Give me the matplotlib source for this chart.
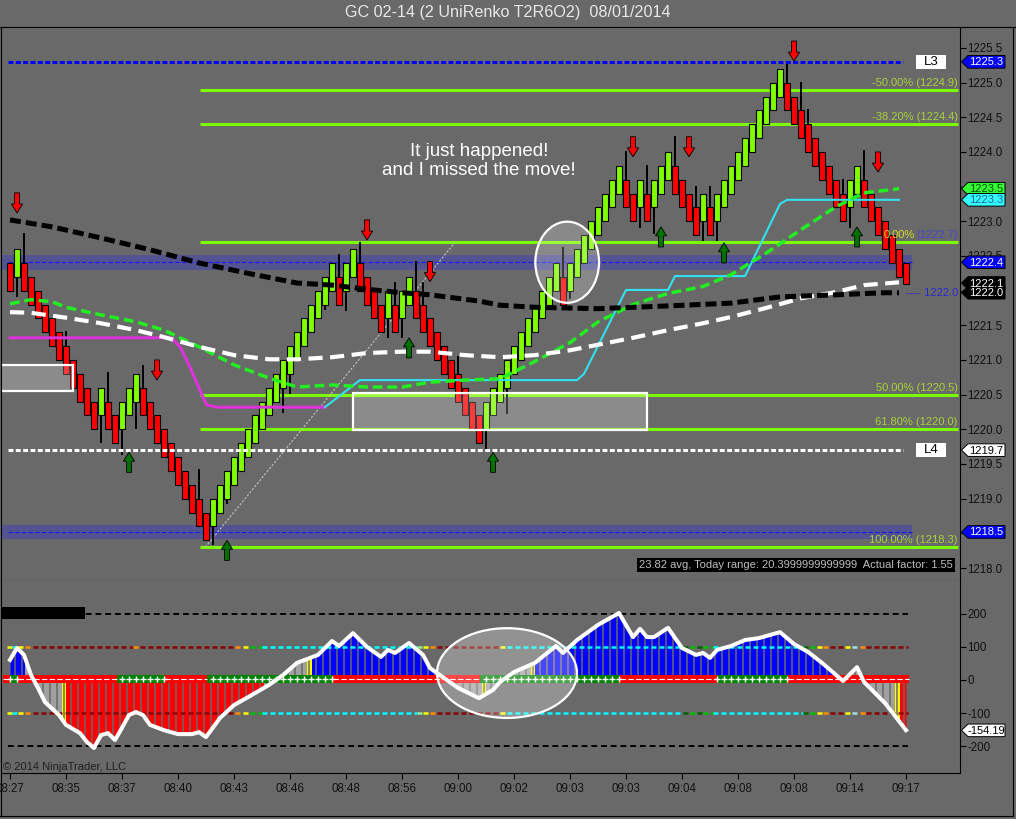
import numpy as np
import matplotlib
matplotlib.use('Agg')
import matplotlib.pyplot as plt
from matplotlib.patches import Rectangle, Ellipse, Polygon, FancyArrow
from matplotlib.lines import Line2D
from matplotlib.transforms import IdentityTransform

plt.rcParams['font.family'] = ['Liberation Sans', 'DejaVu Sans']

# ---------------- data ----------------
title = 'GC 02-14 (2 UniRenko T2R6O2)  08/01/2014'
time_labels = ['08:27', '08:35', '08:37', '08:40', '08:43', '08:46', '08:48', '08:56', '09:00',
               '09:02', '09:03', '09:03', '09:04', '09:08', '09:08', '09:14', '09:17']
time_tick_idx = [0, 8, 16, 24, 32, 40, 48, 56, 64, 72, 80, 88, 96, 104, 112, 120, 128]
price_ticks = [1218.0, 1218.5, 1219.0, 1219.5, 1220.0, 1220.5, 1221.0, 1221.5,
               1222.0, 1222.5, 1223.0, 1223.5, 1224.0, 1224.5, 1225.0, 1225.5]
hidden_ticks = [1218.5, 1222.0, 1223.5]   # covered by price tags in the reference
osc_ticks = [200, 100, 0, -100, -200]

closes = [1222.0, 1222.6, 1222.0, 1221.8, 1221.6, 1221.4, 1221.2, 1221.0, 1220.8, 1220.6,
          1220.4, 1220.2, 1220.0, 1220.6, 1220.0, 1219.8, 1220.4, 1220.6, 1220.8, 1220.2,
          1220.0, 1219.8, 1219.6, 1219.4, 1219.2, 1219.0, 1218.8, 1218.6, 1218.4, 1219.0,
          1219.2, 1219.4, 1219.6, 1219.8, 1220.0, 1220.2, 1220.4, 1220.6, 1220.8, 1221.0,
          1221.2, 1221.4, 1221.6, 1221.8, 1222.0, 1222.2, 1222.4, 1221.8, 1222.4, 1222.6,
          1222.0, 1221.8, 1221.6, 1221.4, 1222.0, 1221.4, 1222.0, 1222.2, 1221.6, 1221.4,
          1221.2, 1221.0, 1220.8, 1220.6, 1220.4, 1220.2, 1220.0, 1219.8, 1220.4, 1220.6,
          1220.8, 1221.0, 1221.2, 1221.4, 1221.6, 1221.8, 1222.0, 1222.2, 1222.4, 1221.8,
          1222.4, 1222.6, 1222.8, 1223.0, 1223.2, 1223.4, 1223.6, 1223.8, 1223.2, 1223.0,
          1223.6, 1223.0, 1223.6, 1223.8, 1224.0, 1223.4, 1223.2, 1223.0, 1222.8, 1223.4,
          1222.8, 1223.4, 1223.6, 1223.8, 1224.0, 1224.2, 1224.4, 1224.6, 1224.8, 1225.0,
          1225.2, 1224.6, 1224.4, 1224.2, 1224.0, 1223.8, 1223.6, 1223.4, 1223.2, 1223.0,
          1223.6, 1223.8, 1223.2, 1223.0, 1222.8, 1222.6, 1222.4, 1222.2, 1222.1]
bar_dirs = ('RGRRRRRRRRRRR' 'G' 'RR' 'GGG' 'RRRRRRRRRR' 'GGGGGGGGGGGGGGGGGG' 'R' 'GG' 'RRRR'
            'G' 'R' 'GG' 'RRRRRRRRRR' 'GGGGGGGGGGG' 'R' 'GGGGGGGG' 'RR' 'G' 'R' 'GGG' 'RRRR'
            'G' 'R' 'GGGGGGGGGG' 'RRRRRRRRR' 'GG' 'RRRRRRR')
brick = 0.4
last_open = 1222.4
wick_high = {2: 1222.82, 8: 1221.41, 14: 1220.81, 19: 1220.91, 27: 1219.41, 47: 1222.51,
             50: 1222.69, 55: 1222.11, 58: 1222.41, 59: 1222.11, 64: 1221.05, 79: 1222.62,
             88: 1224.0, 91: 1223.8, 95: 1224.21, 98: 1223.5, 100: 1223.5, 111: 1225.27,
             113: 1225.0, 114: 1224.6, 119: 1223.6, 122: 1224.01}
wick_low = {1: 1221.92, 13: 1219.82, 16: 1219.65, 18: 1220.02, 29: 1218.35, 31: 1218.94,
            39: 1220.25, 40: 1220.53, 45: 1221.73, 48: 1221.72, 54: 1221.33, 56: 1221.33,
            68: 1219.72, 71: 1220.24, 80: 1221.9, 90: 1222.92, 92: 1222.83, 99: 1222.73,
            101: 1222.73, 120: 1222.92}

black_ma_idx = [0, 6, 13, 20, 27, 34, 41, 46, 51, 56, 60, 67, 70, 75, 84, 94, 103, 110, 118, 125, 127]
black_ma = [1223.02, 1222.92, 1222.76, 1222.59, 1222.40, 1222.25, 1222.11, 1222.08, 1222.02,
            1221.97, 1221.94, 1221.85, 1221.79, 1221.76, 1221.74, 1221.78, 1221.82, 1221.91,
            1221.94, 1221.97, 1221.97]
white_ma_idx = [0, 3, 8, 13, 18, 22, 27, 32, 37, 41, 46, 51, 56, 60, 65, 70, 75, 80, 84, 89,
                94, 99, 103, 108, 113, 118, 122, 127]
white_ma = [1221.69, 1221.68, 1221.61, 1221.53, 1221.43, 1221.33, 1221.19, 1221.07, 1221.01,
            1221.01, 1221.04, 1221.10, 1221.12, 1221.12, 1221.07, 1221.04, 1221.07, 1221.14,
            1221.22, 1221.32, 1221.43, 1221.53, 1221.62, 1221.75, 1221.89, 1221.98, 1222.08,
            1222.12]
green_ma_idx = [0, 3, 6, 8, 13, 18, 22, 27, 32, 37, 41, 46, 51, 56, 60, 65, 70, 75, 80, 84,
                89, 94, 99, 103, 108, 113, 118, 122, 127]
green_ma = [1221.81, 1221.87, 1221.84, 1221.76, 1221.65, 1221.55, 1221.43, 1221.19, 1220.93,
            1220.74, 1220.61, 1220.64, 1220.61, 1220.61, 1220.68, 1220.71, 1220.73, 1220.98,
            1221.25, 1221.55, 1221.80, 1221.96, 1222.06, 1222.23, 1222.54, 1222.88, 1223.21,
            1223.41, 1223.47]
cyan_idx = [45, 50, 81, 82, 88, 94, 95, 105, 110, 111, 127]
cyan_val = [1220.32, 1220.71, 1220.71, 1220.80, 1222.01, 1222.01, 1222.21, 1222.21, 1223.25,
            1223.31, 1223.31]
magenta_idx = [0, 23, 24.3, 25.7, 27.1, 28.1, 29.6, 45]
magenta_val = [1221.32, 1221.32, 1221.19, 1220.90, 1220.57, 1220.35, 1220.32, 1220.32]

fib_levels = [1224.9, 1224.4, 1222.7, 1220.5, 1220.0, 1218.3]
fib_labels = ['-50.00% (1224.9)', '-38.20% (1224.4)', '0.00% (1222.7)', '50.00% (1220.5)',
              '61.80% (1220.0)', '100.00% (1218.3)']
level_L3 = 1225.3
level_L4 = 1219.7
bands = [(1222.30, 1222.51, 1222.41), (1218.42, 1218.62, 1218.52)]
zones = [(-2.0, 9.0, 1220.55, 1220.93), (49.0, 91.0, 1219.99, 1220.52)]

red_arrow_idx = [1, 21, 51, 60, 89, 97, 112, 124]
red_arrow_tip = [1223.12, 1220.71, 1222.73, 1222.13, 1223.93, 1223.93, 1225.31, 1223.71]
green_arrow_idx = [17, 31, 57, 69, 93, 102, 121]
green_arrow_tip = [1219.67, 1218.40, 1221.32, 1219.67, 1222.92, 1222.69, 1222.92]

price_tags = [(1225.3, '1225.3', '#0000ff', 'white'),
              (1223.47, '1223.5', '#33ff33', '#0b4d0b'),
              (1223.31, '1223.3', '#33ffff', '#2060a0'),
              (1222.41, '1222.4', '#0000ff', 'white'),
              (1221.97, '1222.0', 'black', 'white'),
              (1222.11, '1222.1', 'black', 'white'),
              (1219.7, '1219.7', 'white', 'black'),
              (1218.52, '1218.5', '#0000ff', 'white')]
info_text = '23.82 avg, Today range: 20.3999999999999  Actual factor: 1.55'
note_text = 'It just happened!\nand I missed the move!'

cci_idx = [0, 1, 2, 3, 4, 5, 7, 8, 10, 11, 12, 13, 14, 15, 16, 17, 18, 19, 20, 22, 24, 26, 27,
           28, 30, 32, 34, 37, 39, 41, 44, 46, 47, 49, 51, 53, 54, 55, 57, 59, 60, 62, 64, 67,
           69, 70, 72, 75, 78, 79, 81, 84, 87, 89, 90, 91, 92, 94, 96, 98, 99, 100, 101, 103,
           105, 107, 110, 112, 114, 116, 119, 121, 122, 125, 128]
cci_val = [61, 97, 76, 15, -24, -67, -106, -136, -161, -188, -206, -167, -161, -182, -145,
           -106, -97, -106, -136, -152, -164, -164, -158, -173, -115, -76, -52, -15, 15, 52,
           76, 118, 103, 142, 100, 70, 91, 82, 112, 76, 36, 6, -24, -55, -30, -6, 24, 52, 103,
           82, 121, 167, 203, 130, 155, 130, 130, 158, 97, 76, 82, 67, 91, 103, 121, 127, 145,
           109, 85, 52, -3, 39, -6, -70, -152]
cci_last = -154.19
hist_seg_start = [-1.0, 2.2, 7.4, 8.0, 36.3, 42.4, 43.1, 60.7, 67.4, 68.0, 74.4, 75.0, 117.6, 126.4, 127.2]
hist_seg_end = [2.2, 7.4, 8.0, 36.3, 42.4, 43.1, 60.7, 67.4, 68.0, 74.4, 75.0, 117.6, 126.4, 127.2, 128.5]
hist_seg_color = ['#0000ff', '#a0a0a0', '#ffff00', '#ff0000', '#a0a0a0', '#ffff00', '#0000ff',
                  '#a0a0a0', '#ffff00', '#a0a0a0', '#ffff00', '#0000ff', '#a0a0a0', '#ffff00', '#ff0000']
zero_seg_start = [-1.0, 0.0, 1.2, 15.3, 22.1, 28.1, 46.1, 67.1, 87.1, 101.0, 111.1]
zero_seg_end = [0.0, 1.2, 15.3, 22.1, 28.1, 46.1, 67.1, 87.1, 101.0, 111.1, 128.4]
zero_seg_state = ['-', '+', '-', '+', '-', '+', '-', '+', '-', '+', '-']
osc_seg_start = [-0.4, 0.3, 1.1, 2.1, 3.3, 17.6, 18.6, 32.1, 33.3, 34.3, 36.0, 58.1, 59.0, 60.0,
                 61.0, 70.0, 71.0, 96.1, 97.1, 98.1, 99.0, 100.4, 113.3, 114.3, 115.3, 116.1,
                 117.1, 119.3, 120.3, 121.4, 122.3]
osc_seg_end = [0.3, 1.1, 2.1, 3.3, 17.6, 18.6, 32.1, 33.3, 34.3, 36.0, 58.1, 59.0, 60.0, 61.0,
               70.0, 71.0, 96.1, 97.1, 98.1, 99.0, 100.4, 113.3, 114.3, 115.3, 116.1, 117.1,
               119.3, 120.3, 121.4, 122.3, 128.3]
osc_seg_color = ['#ffff00', '#00ffff', '#ffff00', '#ff8c00', '#8b0000', '#ff8c00', '#8b0000',
                 '#ff8c00', '#ffff00', '#00c000', '#00ffff', '#90ee90', '#ffff00', '#ff8c00',
                 '#8b0000', '#ffff00', '#00ffff', '#006400', '#00c000', '#006400', '#00c000',
                 '#00ffff', '#006400', '#00c000', '#ffff00', '#ff8c00', '#8b0000', '#ffff00',
                 '#a0e0e0', '#ff8c00', '#8b0000']

# ---------------- figure ----------------
W, H = 1016, 819
BG = '#696969'
fig = plt.figure(figsize=(W / 100, H / 100), dpi=100, facecolor=BG)
ax = fig.add_axes([1 / W, 1 - 580 / H, 959 / W, 552 / H], facecolor=BG)
ax2 = fig.add_axes([1 / W, 1 - 773 / H, 959 / W, 193 / H], facecolor=BG)
XL = (-1.2857, 135.714)
ax.set_xlim(*XL)
ax.set_ylim(1217.827, 1225.788)
ax2.set_xlim(*XL)
ax2.set_ylim(-281.8, 303.0)

# bands
for lo, hi, mid in bands:
    ax.add_patch(Rectangle((-1.3, lo), 130.2, hi - lo, fc=(0.1, 0.1, 1.0, 0.28), ec='none', zorder=1))
    ax.plot([-0.3, 128.9], [mid, mid], color='#1818e8', lw=0.8, ls=(0, (4, 2)), zorder=1.5)

# fib lines
for lvl, lab in zip(fib_levels, fib_labels):
    ax.plot([27.14, 135.4], [lvl, lvl], color='#7cfc00', lw=2.2, zorder=2, solid_capstyle='butt')
    if lab.startswith('0.00%'):
        ax.text(135.4, lvl + 0.1, lab[6:], ha='right', va='center', fontsize=8, color='#4646c8', zorder=10)
        ax.text(129.2, lvl + 0.1, lab[:5], ha='right', va='center', fontsize=8, color='#d2dc28', zorder=10)
    else:
        ax.text(135.4, lvl + 0.1, lab, ha='right', va='center', fontsize=8, color='#a8d23c', zorder=10)

ax.plot([27.9, 63.6], [fib_levels[5], fib_levels[2]], color='#c4c4c4', lw=0.8,
        ls=(0, (2, 1.5)), zorder=2)

# renko bars
n = len(closes)
xs = np.arange(n)
opens = [c - brick if d == 'G' else c + brick for c, d in zip(closes, bar_dirs)]
opens[-1] = last_open
for i, h in wick_high.items():
    ax.plot([i, i], [max(opens[i], closes[i]), h], color='black', lw=1.4, zorder=3)
for i, l in wick_low.items():
    ax.plot([i, i], [min(opens[i], closes[i]), l], color='black', lw=1.4, zorder=3)
bottoms = [min(o, c) for o, c in zip(opens, closes)]
heights = [abs(c - o) for o, c in zip(opens, closes)]
cols = ['#80ff00' if d == 'G' else '#ff0000' for d in bar_dirs]
ax.bar(xs, heights, bottom=bottoms, width=0.82, color=cols, edgecolor='black', linewidth=0.8, zorder=4)

# zones
for x0, x1, lo, hi in zones:
    ax.add_patch(Rectangle((x0, lo), x1 - x0, hi - lo, fc=(1, 1, 1, 0.23), ec='white', lw=1.6, zorder=5))

# moving averages
ax.plot(magenta_idx, magenta_val, color='#dc32dc', lw=2.2, zorder=6)
ax.plot(cyan_idx, cyan_val, color='#33e0f0', lw=1.5, zorder=6)
ax.plot(green_ma_idx, green_ma, color='#22ee22', lw=2.5, ls=(0, (2.8, 1.4)), zorder=6)
ax.plot(white_ma_idx, white_ma, color='white', lw=3.0, ls=(0, (3.4, 1.8)), zorder=6)
ax.plot(black_ma_idx, black_ma, color='black', lw=3.6, ls=(0, (2.2, 1.0)), zorder=6)

# L3 / L4 lines
ax.plot([-0.3, 127.6], [level_L3, level_L3], color='#0000ff', lw=2.2, ls=(0, (1.6, 0.8)), zorder=7)
ax.plot([-0.3, 127.6], [level_L4, level_L4], color='white', lw=2.2, ls=(0, (1.6, 0.8)), zorder=7)
for lvl, lab in [(level_L3, 'L3'), (level_L4, 'L4')]:
    ax.add_patch(Rectangle((129.4, lvl - 0.105), 4.3, 0.21, fc='white', ec='none', zorder=9))
    ax.text(131.55, lvl, lab, ha='center', va='center', fontsize=9.5, color='black', zorder=10)

# arrows
for i, tip in zip(red_arrow_idx, red_arrow_tip):
    ax.add_patch(FancyArrow(i, tip + 0.29, 0, -0.29, width=0.7, head_width=1.6, head_length=0.13,
                            length_includes_head=True, fc='#ff0000', ec='black', lw=0.6, zorder=8))
for i, tip in zip(green_arrow_idx, green_arrow_tip):
    ax.add_patch(FancyArrow(i, tip - 0.29, 0, 0.29, width=0.7, head_width=1.6, head_length=0.13,
                            length_includes_head=True, fc='#007000', ec='black', lw=0.6, zorder=8))

ax.add_patch(Ellipse((79.6, 1222.41), 9.1, 1.17, fc=(1, 1, 1, 0.22), ec='white', lw=1.6, zorder=9))

ax.text(67, 1223.87, note_text, ha='center', va='center', multialignment='center',
        color='white', fontsize=13.5, linespacing=1.15, zorder=10)
ax.text(134.7, 1218.04, info_text, ha='right', va='center', fontsize=8, color='#bebebe',
        bbox=dict(fc='black', ec='none', pad=1.6), zorder=10)
ax.text(135.4, 1221.97, '---- 1222.0', ha='right', va='center', fontsize=8, color='#2828d2', zorder=10)

# main axis styling
ax.set_xticks([])
ax.yaxis.tick_right()
ax.set_yticks(price_ticks)
ax.set_yticklabels(['' if t in hidden_ticks else f'{t:.1f}' for t in price_ticks])
ax.tick_params(axis='y', direction='out', length=4, width=0.8, colors='black',
               labelsize=8.3, pad=1.5, labelcolor='#111111')
for s in ['left', 'top']:
    ax.spines[s].set_visible(False)
for s in ['right', 'bottom']:
    ax.spines[s].set_color('black')
    ax.spines[s].set_linewidth(0.8)

# ---------------- oscillator panel ----------------
for a, b, c in zip(hist_seg_start, hist_seg_end, hist_seg_color):
    poly = ax2.fill_between(cci_idx, cci_val, 0, color=c, lw=0, zorder=1)
    poly.set_clip_path(Rectangle((a, -400), b - a, 800, transform=ax2.transData))
ax2.vlines(np.arange(-1, 130) + 0.7, -300, 300, colors=BG, lw=1.1, zorder=2)

ax2.add_patch(Rectangle((-1.5, 185), 12.2, 36, fc='black', ec='none', zorder=3))
for lv in (200, -200):
    ax2.plot([-0.3, 128.3], [lv, lv], color='black', lw=1.4, ls=(0, (3, 2)), zorder=3)
for lv in (100, -100):
    for a, b, c in zip(osc_seg_start, osc_seg_end, osc_seg_color):
        ax2.plot([a, b], [lv, lv], color=c, lw=1.8, ls=(0, (2, 1.2)), zorder=3, solid_capstyle='butt')

for a, b, st in zip(zero_seg_start, zero_seg_end, zero_seg_state):
    ax2.add_patch(Rectangle((a, -9), b - a, 24, fc='#008000' if st == '+' else '#ff0000',
                            ec='none', zorder=4))
    if st == '+':
        ks = np.arange(np.ceil(a), np.floor(b) + 1)
        ax2.plot(ks, np.full(len(ks), 3.0), ls='none', marker='+', ms=5, mew=1.0,
                 color='white', zorder=5)
    else:
        ax2.plot([a, b], [3, 3], color='white', lw=0.8, ls=(0, (5, 2)), zorder=5)

ax2.plot(cci_idx, cci_val, color='white', lw=2.9, zorder=6, solid_joinstyle='round')
ax2.add_patch(Ellipse((71, 21), 20, 272, fc=(1, 1, 1, 0.28), ec='white', lw=1.6, zorder=7))

ax2.text(-1.0, -263, '\u00a9 2014 NinjaTrader, LLC', ha='left', va='center', fontsize=8,
         color='#1e1e1e', zorder=8)

ax2.yaxis.tick_right()
ax2.set_yticks(osc_ticks)
ax2.set_yticklabels([str(t) for t in osc_ticks])
ax2.set_xticks(time_tick_idx)
ax2.set_xticklabels(time_labels)
ax2.tick_params(axis='y', direction='out', length=4, width=0.8, colors='black',
                labelsize=8.3, pad=1.5, labelcolor='#111111')
ax2.tick_params(axis='x', direction='out', length=4, width=0.8, colors='black',
                labelsize=8.3, pad=3, labelcolor='#111111')
for s in ['left', 'top']:
    ax2.spines[s].set_visible(False)
for s in ['right', 'bottom']:
    ax2.spines[s].set_color('black')
    ax2.spines[s].set_linewidth(0.8)


# ---------------- price tags ----------------
def tag(axis, yv, s, fc, tc):
    x0, y0 = axis.get_yaxis_transform().transform((1.0, yv))
    h = 6.3
    verts = [(x0 + 1.5, y0), (x0 + 8, y0 + h), (x0 + 45, y0 + h), (x0 + 45, y0 - h), (x0 + 8, y0 - h)]
    fig.add_artist(Polygon(verts, closed=True, fc=fc, ec='black', lw=0.7,
                           transform=IdentityTransform(), zorder=5))
    fig.text(x0 + 26.5, y0 - 0.5, s, color=tc, fontsize=8, ha='center', va='center',
             transform=IdentityTransform(), zorder=6)


for yv, s, fc, tc in price_tags:
    tag(ax, yv, s, fc, tc)
tag(ax2, -152.6, f'{cci_last:.2f}', 'white', 'black')

# title and frame
fig.text(508 / W, 1 - 13 / H, title, ha='center', va='center', fontsize=11.6, color='#e8e8e8')
for xa, ya in [([0, W], [H - 27, H - 27]), ([1, 1], [3, H - 27]), ([1013, 1013], [3, H - 27]),
               ([0, 1013], [3, 3])]:
    fig.add_artist(Line2D(xa, ya, color='black', lw=0.8, transform=IdentityTransform()))

fig.savefig('out.png', dpi=100, facecolor=BG)
